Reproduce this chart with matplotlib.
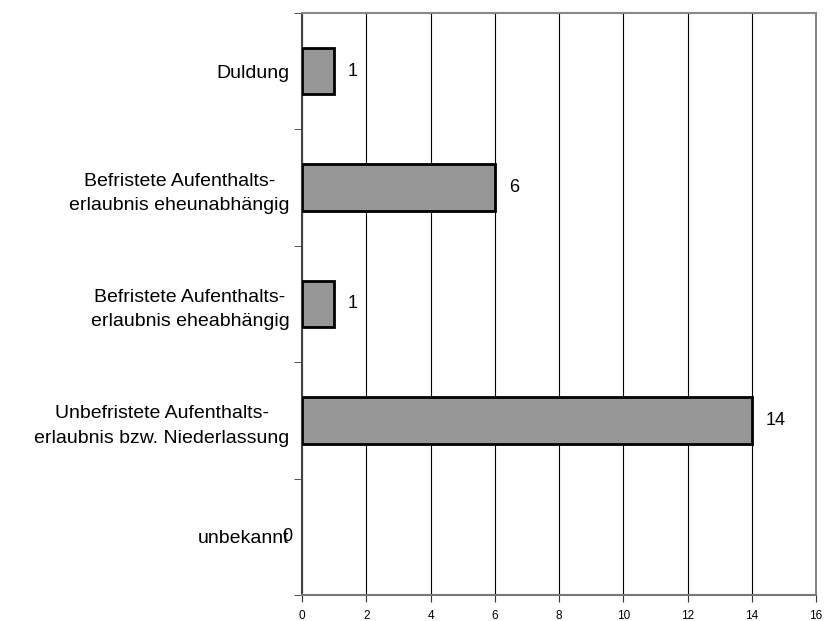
import numpy as np
import matplotlib.pyplot as plt

plt.rcParams['font.family'] = ['Liberation Sans', 'DejaVu Sans']

categories = [
    "Duldung",
    "Befristete Aufenthalts-\nerlaubnis eheunabhängig",
    "Befristete Aufenthalts-\nerlaubnis eheabhängig",
    "Unbefristete Aufenthalts-\nerlaubnis bzw. Niederlassung",
    "unbekannt",
]
values = [1, 6, 1, 14, 0]
x_ticks = [0, 2, 4, 6, 8, 10, 12, 14, 16]

fig = plt.figure(figsize=(8.32, 6.21), dpi=100)
ax = fig.add_axes([302 / 832, 26 / 621, 514 / 832, 582 / 621])

pos = np.arange(len(categories))
ax.barh(pos, values, height=0.4, color="#969696", edgecolor="black",
        linewidth=[2 if v > 0 else 0 for v in values], zorder=3)

ax.set_xlim(0, 16)
ax.set_ylim(len(categories) - 0.5, -0.5)
ax.set_xticks(x_ticks)
ax.set_xticklabels([str(t) for t in x_ticks], fontsize=8.5)
ax.grid(axis="x", color="black", linewidth=0.8, zorder=0)

# category labels sit between the boundary ticks
ax.set_yticks(pos)
ax.set_yticklabels(categories, fontsize=14, multialignment="center",
                   linespacing=1.55)
ax.tick_params(axis="y", length=0, pad=9)
ax.set_yticks(np.arange(len(categories) + 1) - 0.5, minor=True)
ax.tick_params(axis="y", which="minor", length=6, color="#333333")
ax.tick_params(axis="x", length=5, color="#333333", pad=6)

for s in ["top", "right"]:
    ax.spines[s].set_color("#888888")
    ax.spines[s].set_linewidth(1.5)
ax.spines["left"].set_color("#444444")
ax.spines["left"].set_linewidth(1.5)
ax.spines["bottom"].set_color("#777777")
ax.spines["bottom"].set_linewidth(1.5)

for p, v in zip(pos, values):
    off = 10 if v > 0 else -14
    ax.annotate(str(v), (v, p), xytext=(off, 0), textcoords="offset points",
                ha="left", va="center", fontsize=13)

fig.savefig("out.png", dpi=100)
plt.close(fig)
